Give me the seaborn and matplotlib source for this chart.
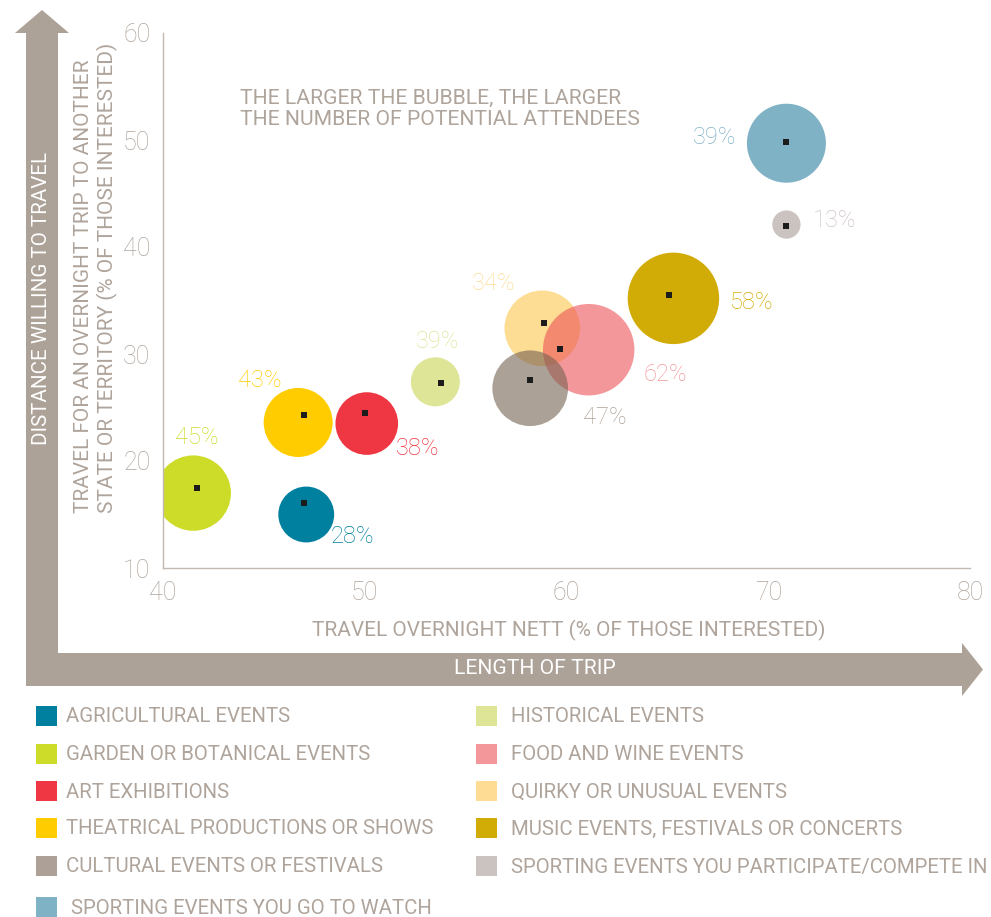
import matplotlib
matplotlib.use("Agg")
import matplotlib.pyplot as plt
from matplotlib.patches import Polygon, Rectangle
import pandas as pd
import seaborn as sns

# legend order: left column first, then right column
EVENTS = [
    "AGRICULTURAL EVENTS",
    "GARDEN OR BOTANICAL EVENTS",
    "ART EXHIBITIONS",
    "THEATRICAL PRODUCTIONS OR SHOWS",
    "CULTURAL EVENTS OR FESTIVALS",
    "SPORTING EVENTS YOU GO TO WATCH",
    "HISTORICAL EVENTS",
    "FOOD AND WINE EVENTS",
    "QUIRKY OR UNUSUAL EVENTS",
    "MUSIC EVENTS, FESTIVALS OR CONCERTS",
    "SPORTING EVENTS YOU PARTICIPATE/COMPETE IN",
]
# travel overnight nett / travel interstate (% of those interested) - the small black points
OVERNIGHT = [47.0, 41.7, 50.0, 47.0, 58.2, 70.9, 53.8, 59.7, 58.9, 65.1, 70.9]
INTERSTATE = [16.1, 17.5, 24.5, 24.3, 27.6, 49.8, 27.3, 30.5, 32.9, 35.5, 42.0]
# bubble centres sit a little off the points in the original graphic
BUBBLE_X = [47.1, 41.5, 50.1, 46.7, 58.2, 70.9, 53.5, 61.1, 58.8, 65.3, 70.9]
BUBBLE_Y = [15.0, 17.0, 23.5, 23.6, 26.8, 49.7, 27.4, 30.4, 32.4, 35.2, 42.1]
# relative number of potential attendees (bubble area)
ATTENDEES = [7.8, 14.2, 9.8, 11.9, 14.3, 15.6, 6.0, 20.9, 14.3, 20.9, 2.0]
SHARE = ["28%", "45%", "38%", "43%", "47%", "39%", "39%", "62%", "34%", "58%", "13%"]
COLORS = ["#00809F", "#CDDC28", "#EE3743", "#FFCC00", "#ADA197", "#80B2C6",
          "#DFE597", "#F4979A", "#FEDC94", "#D2AC06", "#CBC3C0"]

# label positions (data coords) for the percentages
LABEL_POS = [(49.4, 12.9), (41.7, 22.2), (52.6, 21.2), (44.8, 27.5), (61.9, 24.1),
             (67.35, 50.2), (53.6, 31.2), (64.9, 28.1), (56.4, 36.6), (69.2, 34.8),
             (73.3, 42.5)]
# overlapping bubbles get translucent fills that read as the flat colour on white
OVERLAP_FILL = {"CULTURAL EVENTS OR FESTIVALS": "#76625299",
                "FOOD AND WINE EVENTS": "#ED525799",
                "QUIRKY OR UNUSUAL EVENTS": "#FDC54D99"}
DRAW_LAST = ["QUIRKY OR UNUSUAL EVENTS", "FOOD AND WINE EVENTS", "CULTURAL EVENTS OR FESTIVALS"]

TEXT = "#AFA49B"
LINE = "#C2B9B2"
ARROW = "#ADA298"
FONT = ["Roboto", "DejaVu Sans"]

sns.set_style("white")
plt.rcParams["font.family"] = FONT

df = pd.DataFrame({"event": EVENTS, "x": BUBBLE_X, "y": BUBBLE_Y, "attendees": ATTENDEES})
df["order"] = df["event"].apply(lambda e: DRAW_LAST.index(e) + 1 if e in DRAW_LAST else 0)
df = df.sort_values("order", kind="stable")
palette = {e: OVERLAP_FILL.get(e, c) for e, c in zip(EVENTS, COLORS)}

W, H = 991, 917
fig = plt.figure(figsize=(W / 100, H / 100), dpi=100)

# overlay in pixel coordinates for the arrows and the legend
over = fig.add_axes([0, 0, 1, 1], zorder=0)
over.set_xlim(0, W)
over.set_ylim(H, 0)
over.axis("off")
arrow = [(26, 686), (26, 33), (15, 33), (42, 10), (69, 33), (58, 33), (58, 653),
         (962, 653), (962, 643), (983, 669.5), (962, 696), (962, 686)]
over.add_patch(Polygon(arrow, closed=True, facecolor=ARROW, edgecolor="none"))
over.text(535, 669, "LENGTH OF TRIP", color="white", fontsize=15.2, ha="center", va="center")
over.text(42, 298, "DISTANCE WILLING TO TRAVEL", color="white", fontsize=14.8,
          ha="center", va="center", rotation=90)

rows = [716, 754, 791, 828, 866, 907]
for i, (name, color) in enumerate(zip(EVENTS, COLORS)):
    col, row = (0, i) if i < 6 else (1, i - 6)
    x0 = 36 if col == 0 else 476
    y0 = rows[row]
    over.add_patch(Rectangle((x0, y0 - 10), 21, 20, facecolor=color, edgecolor="none"))
    label = (" " + name) if name.startswith("SPORTING EVENTS YOU GO") else name
    over.text(x0 + (30 if col == 0 else 35), y0 + 1, label, color=TEXT, fontsize=14.7,
              ha="left", va="center")

ax = fig.add_axes([163 / W, 1 - 568 / H, 807 / W, 535 / H], zorder=1)
ax.patch.set_alpha(0)

sns.scatterplot(data=df, x="x", y="y", hue="event", size="attendees", palette=palette,
                sizes=(0, 207.4 * 25), size_norm=(0, 25), linewidth=0, edgecolor="none",
                legend=False, ax=ax)
sns.scatterplot(x=OVERNIGHT, y=INTERSTATE, marker="s", s=20, color="#1c1c1c",
                linewidth=0, ax=ax, zorder=5)

for (lx, ly), txt, color in zip(LABEL_POS, SHARE, COLORS):
    ax.text(lx, ly, txt, color=color, fontsize=17, ha="center", va="center",
            fontweight="light")

ax.text(0.095, 0.858, "THE LARGER THE BUBBLE, THE LARGER\nTHE NUMBER OF POTENTIAL ATTENDEES",
        transform=ax.transAxes, color=TEXT, fontsize=15.2, ha="left", va="center",
        linespacing=1.15)

ax.set_xlim(40, 80)
ax.set_ylim(10, 60)
ax.set_xticks([40, 50, 60, 70, 80])
ax.set_yticks([10, 20, 30, 40, 50, 60])
for s in ["top", "right"]:
    ax.spines[s].set_visible(False)
for s in ["left", "bottom"]:
    ax.spines[s].set_color(LINE)
    ax.spines[s].set_linewidth(1)
ax.tick_params(axis="both", direction="out", length=6, width=0.8, color=LINE,
               labelcolor=TEXT, labelsize=18, pad=3)
for lab in ax.get_xticklabels() + ax.get_yticklabels():
    lab.set_fontweight("light")

ax.set_xlabel("TRAVEL OVERNIGHT NETT (% OF THOSE INTERESTED)", color=TEXT, fontsize=15)
ax.xaxis.set_label_coords(0.503, -0.097)
ax.set_ylabel("TRAVEL FOR AN OVERNIGHT TRIP TO ANOTHER\nSTATE OR TERRITORY (% OF THOSE INTERESTED)",
              color=TEXT, fontsize=15, multialignment="left", linespacing=1.2)
ax.yaxis.set_label_coords(-0.056, 0.542)

fig.savefig("out.png", dpi=100)
